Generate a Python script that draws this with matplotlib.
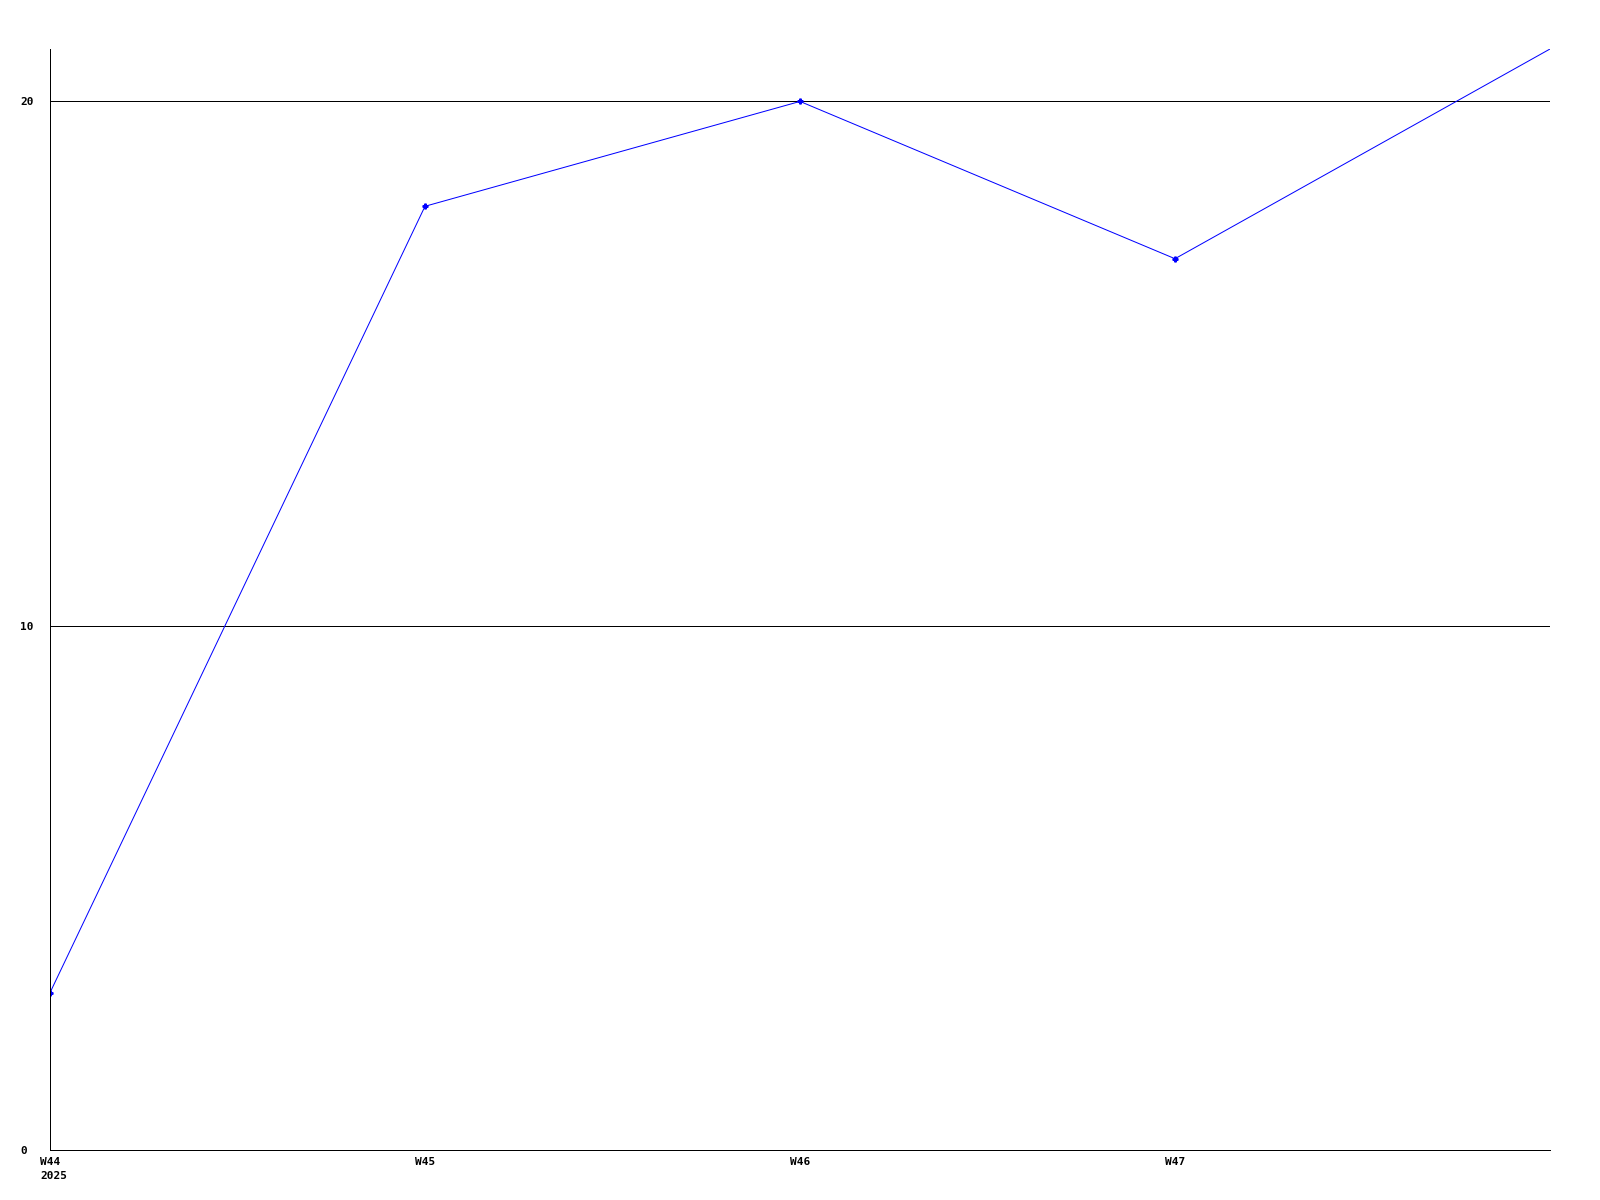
import matplotlib
matplotlib.use("Agg")
import matplotlib.pyplot as plt
import matplotlib.transforms as mtransforms

# weekly values
weeks = [0, 1, 2, 3, 4]
values = [3, 18, 20, 17, 21]
week_labels = ["W44\n2025", "W45", "W46", "W47"]
y_ticks = [0, 10, 20]

plt.rcParams['font.family'] = ['DejaVu Sans Mono']
plt.rcParams['font.weight'] = 'bold'

px = 0.72  # one pixel in points at 100 dpi

fig = plt.figure(figsize=(16, 12), dpi=100)
ax = fig.add_axes([50 / 1600, 1 - 1150 / 1200, 1500 / 1600, 1101 / 1200])

# grid lines at 10 and 20
for yv in y_ticks[1:]:
    ax.axhline(yv, color='black', linewidth=px, zorder=1)

ax.plot(weeks, values, color='#0000ff', linewidth=px, marker='P', markersize=3.5,
        markevery=[0, 1, 2, 3], zorder=2)

ax.set_xlim(0, 4)
ax.set_ylim(0, 21)

ax.spines['top'].set_visible(False)
ax.spines['right'].set_visible(False)
for s in ('left', 'bottom'):
    ax.spines[s].set_linewidth(px)
    ax.spines[s].set_color('black')

ax.set_yticks(y_ticks)
ax.set_yticklabels([str(v) for v in y_ticks], fontsize=8, fontweight='bold')
ax.tick_params(axis='y', length=0, pad=21.6)
for lbl in ax.get_yticklabels():
    lbl.set_horizontalalignment('left')

ax.set_xticks(weeks[:4])
ax.set_xticklabels(week_labels, fontsize=8, fontweight='bold')
ax.tick_params(axis='x', length=0, pad=5)
first = ax.get_xticklabels()[0]
first.set_horizontalalignment('left')
first.set_multialignment('left')
first.set_linespacing(1.5)
first.set_transform(first.get_transform() +
                    mtransforms.ScaledTranslation(-10 / 100, 0, fig.dpi_scale_trans))

fig.savefig("out.png", dpi=100)
